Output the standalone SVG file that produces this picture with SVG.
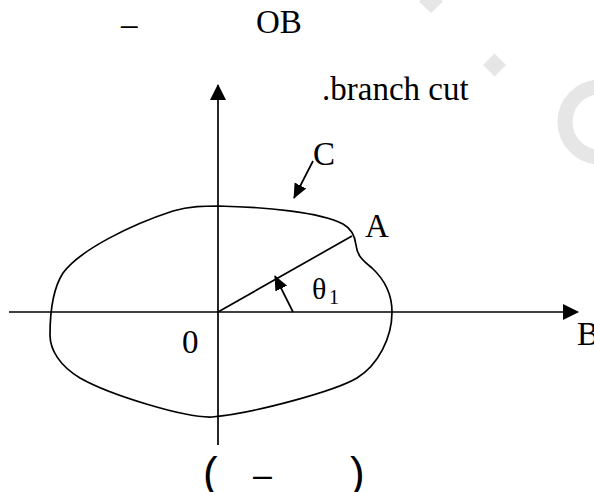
<svg xmlns="http://www.w3.org/2000/svg" width="594" height="492" viewBox="0 0 594 492">
<style>
.ln{fill:none;stroke:#000;stroke-width:1.7}
.t{font-family:"Liberation Serif","Times New Roman",serif;font-size:33px;fill:#000}
.s{font-family:"Liberation Sans",Arial,sans-serif;fill:#000}
.wm{fill:#e6e6e6}
</style>
<defs>
<marker id="ah" viewBox="0 0 16 16" refX="15" refY="8" markerWidth="16" markerHeight="16" markerUnits="userSpaceOnUse" orient="auto">
<path d="M0,0 L16,8 L0,16 z" fill="#000"/>
</marker>
<marker id="ahs" viewBox="0 0 16 16" refX="15" refY="8" markerWidth="15" markerHeight="15" markerUnits="userSpaceOnUse" orient="auto">
<path d="M0,1 L16,8 L0,15 z" fill="#000"/>
</marker>
</defs>
<g id="watermark">
<path class="wm" d="M431,-10 L443,1.5 L431,13 L419,1.5 z"/>
<path class="wm" d="M494.5,53.5 L506,65 L494.5,76.5 L483,65 z"/>
<circle cx="600" cy="122" r="35" fill="none" stroke="#e6e6e6" stroke-width="15"/>
</g>
<g id="texts">
<text class="t" x="121" y="35">–</text>
<text class="t" x="256" y="33">OB</text>
<text class="t" x="322" y="100">.branch cut</text>
</g>
<g id="connectors">
<line class="ln" x1="218" y1="445" x2="218" y2="85" marker-end="url(#ah)"/>
<line class="ln" x1="9" y1="312" x2="578" y2="312" marker-end="url(#ah)"/>
<line class="ln" x1="218" y1="312" x2="352" y2="236"/>
<line class="ln" x1="293" y1="312" x2="275" y2="276" marker-end="url(#ahs)"/>
<line class="ln" x1="313" y1="161" x2="294" y2="198" marker-end="url(#ahs)"/>
</g>
<g id="curve-C">
<path class="ln" d="M218,206 C265,207 320,212 343,224 C352,229 355,236 356,245 C357,255 362,260 372,268 C385,280 392,295 392,312 C392,338 378,365 357,378 C335,391 255,413 212,417 C185,418 110,395 80,378 C60,366 50,350 50,335 C50,315 52,290 63,273 C80,250 130,225 173,211 C190,206 205,206 218,206 Z"/>
<text class="t" x="313" y="165">C</text>
</g>
<g id="point-A"><text class="t" x="365" y="237">A</text></g>
<g id="point-B"><text class="t" x="577" y="345">B</text></g>
<g id="origin"><text class="t" x="182" y="353">0</text></g>
<g id="angle">
<text class="t" x="312" y="299" style="font-size:30px">θ</text>
<text class="t" x="329" y="304" style="font-size:20px">1</text>
</g>
<g id="caption">
<text class="s" x="203" y="488" style="font-size:44px">(</text>
<text class="s" x="253" y="486" style="font-size:34px">–</text>
<text class="s" x="350" y="488" style="font-size:44px">)</text>
</g>
</svg>
